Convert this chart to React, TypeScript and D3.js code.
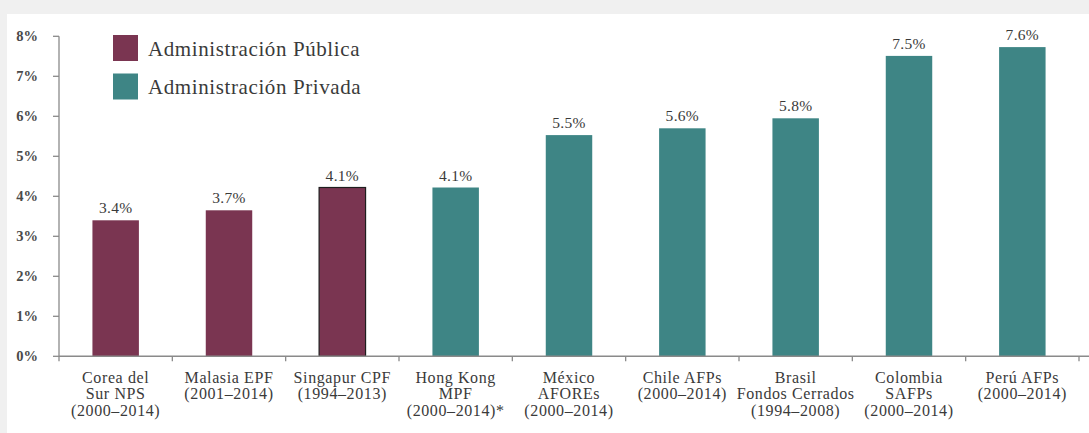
import React from "react";
import * as d3 from "d3";

const categories = [
  ["Corea del", "Sur NPS", "(2000–2014)"],
  ["Malasia EPF", "(2001–2014)"],
  ["Singapur CPF", "(1994–2013)"],
  ["Hong Kong", "MPF", "(2000–2014)*"],
  ["México", "AFOREs", "(2000–2014)"],
  ["Chile AFPs", "(2000–2014)"],
  ["Brasil", "Fondos Cerrados", "(1994–2008)"],
  ["Colombia", "SAFPs", "(2000–2014)"],
  ["Perú AFPs", "(2000–2014)"],
];
const values = [3.4, 3.65, 4.22, 4.22, 5.53, 5.7, 5.95, 7.51, 7.73];
const valueLabels = ["3.4%", "3.7%", "4.1%", "4.1%", "5.5%", "5.6%", "5.8%", "7.5%", "7.6%"];
const groups = ["pub", "pub", "pub", "priv", "priv", "priv", "priv", "priv", "priv"];
const yTicks = [0, 1, 2, 3, 4, 5, 6, 7, 8];
const legendItems = [
  { key: "pub", label: "Administración Pública" },
  { key: "priv", label: "Administración Privada" },
];

const W = 1089;
const H = 433;
const colors: Record<string, string> = { pub: "#7a3551", priv: "#3e8585" };
const FONT = "'Liberation Serif', 'DejaVu Serif', serif";

export default function App() {
  const ids = categories.map((_, i) => String(i));
  const x = d3.scaleBand<string>().domain(ids).range([59, 1079]).padding(0);
  const y = d3.scaleLinear().domain([0, 8]).range([356.3, 36.3]);
  const bw = x.bandwidth() * 0.41;
  const axisColor = "#8a8a8a";
  const textColor = "#3a3a3a";

  return (
    <svg
      width={W}
      height={H}
      style={{ position: "absolute", left: 0, top: 0 }}
      fontFamily={FONT}
    >
      <rect x={0} y={0} width={W} height={H} fill="#f0f0f0" />
      <rect x={7} y={14} width={W - 7} height={H - 14} fill="#ffffff" />

      {/* y axis */}
      <line x1={59} x2={59} y1={y(8)} y2={y(0)} stroke={axisColor} strokeWidth={1.3} />
      {yTicks.map((t) => (
        <g key={t}>
          <line x1={53} x2={59} y1={y(t)} y2={y(t)} stroke={axisColor} strokeWidth={1.3} />
          <text
            x={38}
            y={y(t)}
            dy="0.35em"
            textAnchor="end"
            fontSize={14.5}
            fontWeight="bold"
            fill="#4a4a4a"
          >
            {t}%
          </text>
        </g>
      ))}

      {/* bars */}
      {values.map((v, i) => {
        const cx = (x(String(i)) as number) + x.bandwidth() / 2;
        const singapur = i === 2;
        return (
          <g key={i}>
            <rect
              x={cx - bw / 2}
              y={y(v)}
              width={bw}
              height={y(0) - y(v)}
              fill={colors[groups[i]]}
              stroke={singapur ? "#1e1e1e" : "none"}
              strokeWidth={singapur ? 1.2 : 0}
            />
            <text
              x={cx}
              y={y(v) - 7}
              textAnchor="middle"
              fontSize={15.5}
              letterSpacing={0.3}
              fill={textColor}
            >
              {valueLabels[i]}
            </text>
          </g>
        );
      })}

      {/* x axis */}
      <line x1={59} x2={W} y1={y(0)} y2={y(0)} stroke={axisColor} strokeWidth={1.5} />
      {d3.range(categories.length + 1).map((i) => {
        const xx = 59 + i * x.step();
        return (
          <line key={i} x1={xx} x2={xx} y1={y(0)} y2={y(0) + 5} stroke={axisColor} strokeWidth={1.3} />
        );
      })}
      {categories.map((lines, i) => {
        const cx = (x(String(i)) as number) + x.bandwidth() / 2;
        return (
          <text key={i} x={cx} textAnchor="middle" fontSize={16} letterSpacing={0.6} fill={textColor}>
            {lines.map((l, j) => (
              <tspan key={j} x={cx} y={382.5 + j * 16.7}>
                {l}
              </tspan>
            ))}
          </text>
        );
      })}

      {/* legend */}
      {legendItems.map((it, i) => (
        <g key={it.key} transform={`translate(113, ${35 + i * 38.5})`}>
          <rect x={0} y={0} width={25} height={26} fill={colors[it.key]} />
          <text x={35} y={13.5} dy="0.35em" fontSize={21} fill={textColor} letterSpacing={0.6}>
            {it.label}
          </text>
        </g>
      ))}
    </svg>
  );
}
